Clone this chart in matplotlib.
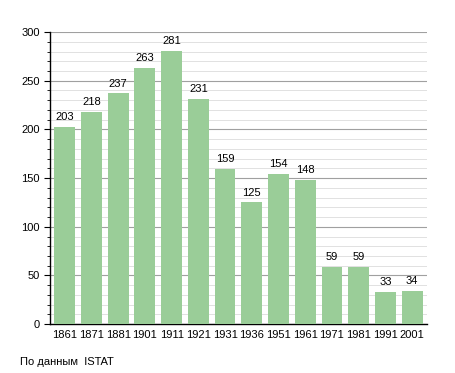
import matplotlib.pyplot as plt
import numpy as np

plt.rcParams['font.family'] = ['Liberation Sans', 'DejaVu Sans']

years = ['1861', '1871', '1881', '1901', '1911', '1921', '1931',
         '1936', '1951', '1961', '1971', '1981', '1991', '2001']
population = [203, 218, 237, 263, 281, 231, 159, 125, 154, 148, 59, 59, 33, 34]

fig = plt.figure(figsize=(4.55, 3.73), dpi=100)
ax = fig.add_axes([0.110, 0.131, 0.828, 0.783])

x = np.arange(len(years))
ax.bar(x, population, width=0.78, color='#9acd98', zorder=3)

for xi, v in zip(x, population):
    ax.text(xi, v + 5, str(v), ha='center', va='bottom', fontsize=8, color='black')

ax.set_xlim(-0.55, len(years) - 0.45)
ax.set_ylim(0, 300)
ax.set_yticks(np.arange(0, 301, 50))
ax.set_yticks(np.arange(0, 301, 10), minor=True)
ax.set_xticks(x)
ax.set_xticklabels(years)
ax.tick_params(axis='both', labelsize=8, length=4, width=0.8)
ax.tick_params(axis='y', which='minor', length=2.5, width=0.6)
ax.tick_params(axis='x', length=0, pad=4)

ax.grid(axis='y', which='major', color='#a0a0a0', linewidth=0.8, zorder=0)
ax.grid(axis='y', which='minor', color='#dcdcdc', linewidth=0.6, zorder=0)

for s in ['top', 'right']:
    ax.spines[s].set_visible(False)
ax.spines['left'].set_linewidth(1.0)
ax.spines['bottom'].set_linewidth(1.0)

fig.text(20 / 455, 1 - 362 / 373, 'По данным  ISTAT', fontsize=8, va='center')

fig.savefig('out.png', dpi=100)
